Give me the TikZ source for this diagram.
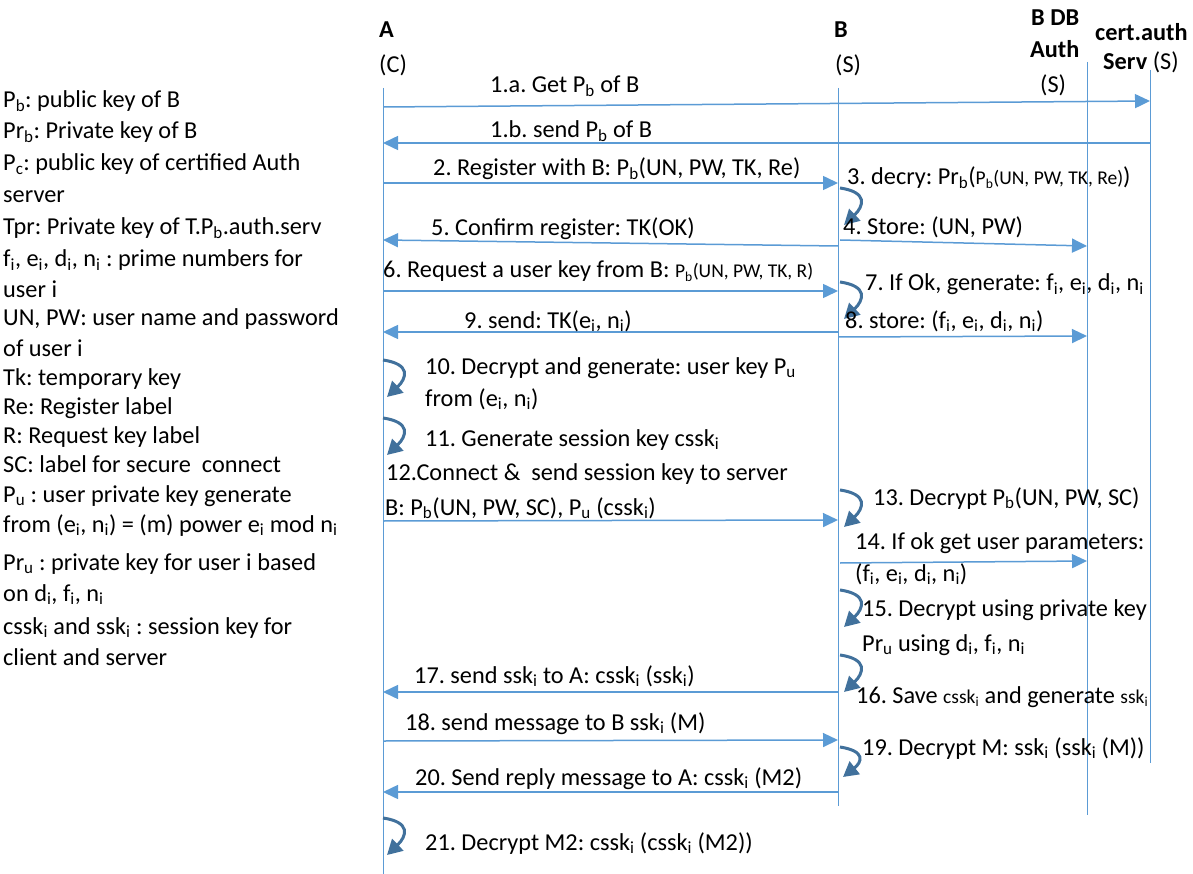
\documentclass[tikz,border=0pt]{standalone}
\usepackage{fontspec}
\setmainfont{Carlito}
\usetikzlibrary{arrows.meta,calc}
\definecolor{msg}{RGB}{91,155,213}
\definecolor{loopc}{RGB}{65,113,156}
\newcommand\subs[1]{\textsubscript{#1}}
\newcommand\smalltxt[1]{{\fontsize{19.5}{22}\selectfont #1}}
\frenchspacing
\begin{document}
\frenchspacing
\begin{tikzpicture}[x=1pt,y=-1pt,
 lbl/.style={anchor=base west, inner sep=0pt, font=\fontsize{24.3}{28}\selectfont},
 hdr/.style={anchor=base west, inner sep=0pt, font=\fontsize{24.3}{28}\selectfont\bfseries},
 life/.style={draw=msg, line width=1pt},
 msgarrow/.style={draw=msg, line width=1.5pt, -{Triangle[length=15pt,width=14pt]}},
 selfarrow/.style={draw=loopc, line width=3pt, -{Triangle[length=15pt,width=16pt]}},
]
\useasboundingbox (0,0) rectangle (1193,874);

% lifeline coordinates
\coordinate (Atop) at (383,88);  \coordinate (Abot) at (383,874);
\coordinate (Btop) at (838,88);  \coordinate (Bbot) at (838,806);
\coordinate (Dtop) at (1087,62); \coordinate (Dbot) at (1087,815);
\coordinate (Ctop) at (1150,70); \coordinate (Cbot) at (1150,763);
\draw[life] (Atop) -- (Abot);
\draw[life] (Btop) -- (Bbot);
\draw[life] (Dtop) -- (Dbot);
\draw[life] (Ctop) -- (Cbot);

% headers
\node[hdr] (hA) at (379,38) {A};
\node[lbl] (hAc) at (379,73) {(C)};
\node[hdr] (hB) at (834,38) {B};
\node[lbl] (hBs) at (835,73) {(S)};
\node[hdr] (hD1) at (1031,26) {B DB};
\node[hdr] (hD2) at (1030,58) {Auth};
\node[lbl] (hD3) at (1040,93) {(S)};
\node[hdr] (hC1) at (1095,41) {cert.auth};
\node[lbl] (hC2) at (1103,70) {\textbf{Serv} (S)};

% messages
\coordinate (m1a) at (383,107); \coordinate (m1ae) at (1150,101);
\draw[msgarrow] (m1a) -- (m1ae);
\coordinate (m1b) at (1150,143); \coordinate (m1be) at (383,143);
\draw[msgarrow] (m1b) -- (m1be);
\coordinate (m2) at (383,183); \coordinate (m2e) at (838,183);
\draw[msgarrow] (m2) -- (m2e);
\coordinate (m4) at (840,240); \coordinate (m4e) at (1087,246);
\draw[msgarrow] (m4) -- (m4e);
\coordinate (m5) at (838,246); \coordinate (m5e) at (383,240);
\draw[msgarrow] (m5) -- (m5e);
\coordinate (m6) at (383,291); \coordinate (m6e) at (838,291);
\draw[msgarrow] (m6) -- (m6e);
\coordinate (m8) at (838,337); \coordinate (m8e) at (1087,336);
\draw[msgarrow] (m8) -- (m8e);
\coordinate (m9) at (838,332); \coordinate (m9e) at (383,332);
\draw[msgarrow] (m9) -- (m9e);
\coordinate (m12) at (383,521); \coordinate (m12e) at (838,520);
\draw[msgarrow] (m12) -- (m12e);
\coordinate (m14) at (840,563); \coordinate (m14e) at (1087,561);
\draw[msgarrow] (m14) -- (m14e);
\coordinate (m17) at (838,692); \coordinate (m17e) at (383,692);
\draw[msgarrow] (m17) -- (m17e);
\coordinate (m18) at (383,741); \coordinate (m18e) at (838,740);
\draw[msgarrow] (m18) -- (m18e);
\coordinate (m20) at (838,792); \coordinate (m20e) at (383,792);
\draw[msgarrow] (m20) -- (m20e);

% self loops
\foreach \x/\y/\n in {840/188/s3, 840/282/s7, 383/360/s10, 383/418/s11, 840/490/s13, 840/590/s15, 840/655/s16, 383/818/s21}{
  \coordinate (\n a) at (\x,\y);
  \coordinate (\n b) at (\x+4,\y+37);
  \draw[selfarrow] (\n a) .. controls (\x+28,\y+4) and (\x+24,\y+18) .. (\n b);
}
\coordinate (s19a) at (840,747); \coordinate (s19b) at (843,777);
\draw[selfarrow] (s19a) .. controls (866,751) and (862,762) .. (s19b);

% message labels
\node[lbl] (t1a) at (490,93) {1.a. Get P\subs{b} of B};
\node[lbl] (t1b) at (490,138) {1.b. send P\subs{b} of B};
\node[lbl] (t2) at (433,176) {2. Register with B: P\subs{b}(UN, PW, TK, Re)};
\node[lbl] (t3) at (847,185) {3. decry: Pr\subs{b}(\smalltxt{P\subs{b}(UN, PW, TK, Re)})};
\node[lbl] (t4) at (843,235) {4. Store: (UN, PW)};
\node[lbl] (t5) at (431,236) {5. Confirm register: TK(OK)};
\node[lbl] (t6) at (383,278) {6. Request a user key from B: \smalltxt{P\subs{b}(UN, PW, TK, R)}};
\node[lbl] (t7) at (865,291) {7. If Ok, generate: f\subs{i}, e\subs{i}, d\subs{i}, n\subs{i}};
\node[lbl] (t8) at (845,328) {8. store: (f\subs{i}, e\subs{i}, d\subs{i}, n\subs{i})};
\node[lbl] (t9) at (464,328) {9. send: TK(e\subs{i}, n\subs{i})};
\node[lbl] (t10) at (425,374) {10. Decrypt and generate: user key P\subs{u}};
\node[lbl] (t10b) at (425,406) {from (e\subs{i}, n\subs{i})};
\node[lbl] (t11) at (425,446) {11. Generate session key cssk\subs{i}};
\node[lbl] (t12) at (386,480) {12.Connect \&\ \ send session key to server};
\node[lbl] (t12b) at (385,515) {B: P\subs{b}(UN, PW, SC), P\subs{u} (cssk\subs{i})};
\node[lbl] (t13) at (873,505) {13. Decrypt P\subs{b}(UN, PW, SC)};
\node[lbl] (t14) at (855,549) {14. If ok get user parameters:};
\node[lbl] (t14b) at (855,581) {(f\subs{i}, e\subs{i}, d\subs{i}, n\subs{i})};
\node[lbl] (t15) at (862,616) {15. Decrypt using private key};
\node[lbl] (t15b) at (862,651) {Pr\subs{u} using d\subs{i}, f\subs{i}, n\subs{i}};
\node[lbl] (t16) at (856,703) {16. Save \smalltxt{cssk\subs{i}} and generate \smalltxt{ssk\subs{i}}};
\node[lbl] (t17) at (414,683) {17. send ssk\subs{i} to A: cssk\subs{i} (ssk\subs{i})};
\node[lbl] (t18) at (405,730) {18. send message to B ssk\subs{i} (M)};
\node[lbl] (t19) at (862,755) {19. Decrypt M: ssk\subs{i} (ssk\subs{i} (M))};
\node[lbl] (t20) at (415,785) {20. Send reply message to A: cssk\subs{i} (M2)};
\node[lbl] (t21) at (425,850) {21. Decrypt M2: cssk\subs{i} (cssk\subs{i} (M2))};

% legend
\node[lbl] (g1) at (3,108) {P\subs{b}: public key of B};
\node[lbl] (g2) at (3,139) {Pr\subs{b}: Private key of B};
\node[lbl] (g3) at (3,171) {P\subs{c}: public key of certified Auth};
\node[lbl] (g4) at (3,203) {server};
\node[lbl] (g5) at (3,235) {Tpr: Private key of T.P\subs{b}.auth.serv};
\node[lbl] (g6) at (3,267) {f\subs{i}, e\subs{i}, d\subs{i}, n\subs{i} : prime numbers for};
\node[lbl] (g7) at (3,298) {user i};
\node[lbl] (g8) at (3,326) {UN, PW: user name and password};
\node[lbl] (g9) at (3,356) {of user i};
\node[lbl] (g10) at (3,385) {Tk: temporary key};
\node[lbl] (g11) at (3,414) {Re: Register label};
\node[lbl] (g12) at (3,443) {R: Request key label};
\node[lbl] (g13) at (3,472) {SC: label for secure\ \ connect};
\node[lbl] (g14) at (3,502) {P\subs{u} : user private key generate};
\node[lbl] (g15) at (3,532) {from (e\subs{i}, n\subs{i}) = (m) power e\subs{i} mod n\subs{i}};
\node[lbl] (g16) at (3,570) {Pr\subs{u} : private key for user i based};
\node[lbl] (g17) at (3,601) {on d\subs{i}, f\subs{i}, n\subs{i}};
\node[lbl] (g18) at (3,634) {cssk\subs{i} and ssk\subs{i} : session key for};
\node[lbl] (g19) at (3,665) {client and server};
\end{tikzpicture}
\end{document}
